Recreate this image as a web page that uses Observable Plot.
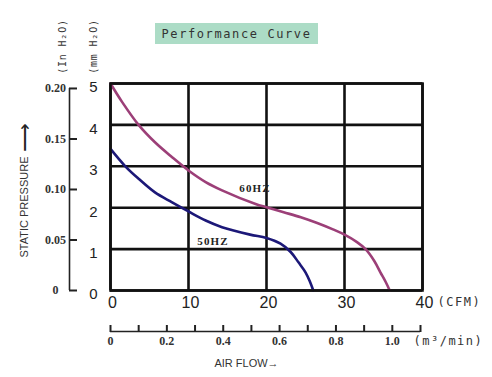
<!DOCTYPE html>
<html><head><meta charset="utf-8">
<script src="https://cdn.jsdelivr.net/npm/d3@7"></script>
<script src="https://cdn.jsdelivr.net/npm/@observablehq/plot@0.6"></script>
<style>
html,body{margin:0;padding:0;background:#fff;}
#wrap{position:relative;width:492px;height:377px;}
#title{position:absolute;left:155px;top:23px;width:163px;height:21px;background:#acdcc6;font-family:"DejaVu Sans Mono",monospace;font-size:12px;letter-spacing:1.6px;color:#333;display:flex;align-items:center;justify-content:center;}
#wrap svg{position:absolute;left:0;top:0;}
</style></head><body>
<div id="wrap"><div id="title">Performance Curve</div></div>
<script>
// ---- data ----
const cfmTicks = [0, 10, 20, 30, 40];
const mmTicks = [0, 1, 2, 3, 4, 5];
const inTicks = [0, 0.05, 0.10, 0.15, 0.20];
const inLabels = ["0", "0.05", "0.10", "0.15", "0.20"];
const m3Ticks = [0, 0.1, 0.2, 0.3, 0.4, 0.5, 0.6, 0.7, 0.8, 0.9, 1.0, 1.1];
const m3LabelTicks = [0, 0.2, 0.4, 0.6, 0.8, 1.0];
const m3Labels = ["0", "0.2", "0.4", "0.6", "0.8", "1.0"];
const seriesNames = ["60HZ", "50HZ"];
const hz60Flow = [0, 1.5, 3.6, 5.7, 7.9, 10, 12.2, 14.3, 18.6, 20, 22.2, 24.4, 26.5, 28.6, 30, 31.6, 32.7, 33.8, 34.6, 35.3, 35.8];
const hz60Pres = [5, 4.55, 4.0, 3.58, 3.22, 2.9, 2.62, 2.42, 2.09, 2.01, 1.89, 1.77, 1.63, 1.47, 1.35, 1.17, 1.0, 0.72, 0.44, 0.2, 0];
const hz50Flow = [0, 1.9, 3.6, 5.7, 7.9, 10, 12.2, 14.3, 17.9, 20, 21.8, 23.1, 24.1, 25.0, 25.6, 26.0];
const hz50Pres = [3.42, 3.0, 2.7, 2.37, 2.13, 1.91, 1.69, 1.53, 1.35, 1.27, 1.13, 0.93, 0.68, 0.44, 0.2, 0];

// secondary scales as drawn in the picture
const IN_TO_MM = 24.4;     // inch H2O -> mm H2O (as drawn)
const M3_TO_CFM = 36.13;   // m3/min -> CFM (as drawn)

const hz60 = hz60Flow.map((x, i) => ({x, y: hz60Pres[i], s: seriesNames[0]}));
const hz50 = hz50Flow.map((x, i) => ({x, y: hz50Pres[i], s: seriesNames[1]}));

const ink = "#111";
const serif = "Liberation Serif, DejaVu Serif, serif";
const sans = "Liberation Sans, Arial, sans-serif";
const mono = "DejaVu Sans Mono, monospace";
const mid = {textAnchor: "middle", lineAnchor: "middle"};

const chart = Plot.plot({
  width: 492, height: 377,
  marginLeft: 110, marginRight: 70, marginTop: 83, marginBottom: 87,
  x: {domain: [0, 40], axis: null},
  y: {domain: [0, 5], axis: null},
  style: {background: "transparent", overflow: "visible"},
  marks: [
    // grid
    Plot.ruleX(cfmTicks, {stroke: ink, strokeWidth: 2.6}),
    Plot.ruleY(mmTicks, {stroke: ink, strokeWidth: 2.6}),
    // curves
    Plot.line(hz60, {x: "x", y: "y", stroke: "#9c3f78", strokeWidth: 2.6, curve: "catmull-rom"}),
    Plot.line(hz50, {x: "x", y: "y", stroke: "#1c1878", strokeWidth: 2.6, curve: "catmull-rom"}),
    Plot.text(hz60.filter(d => d.x === 14.3), {x: "x", y: "y", text: "s", dx: 33, dy: -2, ...mid, fontFamily: serif, fontWeight: "bold", fontSize: 11, fill: "#222"}),
    Plot.text(hz50.filter(d => d.x === 14.3), {x: "x", y: "y", text: "s", dx: -9, dy: 14, ...mid, fontFamily: serif, fontWeight: "bold", fontSize: 11, fill: "#222"}),
    // mm H2O labels
    Plot.text(mmTicks, {y: d => d, text: d => String(d), frameAnchor: "left", dx: -17, dy: 4, ...mid, fontFamily: sans, fontSize: 15, fill: "#222"}),
    // in H2O axis
    Plot.ruleX([0], {y1: 0, y2: 0.20 * IN_TO_MM, dx: -41, stroke: "#222", strokeWidth: 1.6}),
    Plot.axisY(inTicks.map(v => v * IN_TO_MM), {anchor: "left", tickSize: 8, dx: -33, fill: "none", stroke: "#222", strokeWidth: 2, label: null}),
    Plot.text(inTicks, {y: d => d * IN_TO_MM, text: (d, i) => inLabels[i], frameAnchor: "left", dx: -55, ...mid, fontFamily: serif, fontWeight: "bold", fontSize: 12, fill: "#333"}),
    // CFM labels
    Plot.text(cfmTicks, {x: d => d, text: d => String(d), frameAnchor: "bottom", dx: 2, dy: 12, ...mid, fontFamily: sans, fontSize: 16, fill: "#222"}),
    Plot.text(["(CFM)"], {frameAnchor: "bottom-right", dx: 15, dy: 12, textAnchor: "start", lineAnchor: "middle", fontFamily: mono, fontSize: 12, fill: "#333"}),
    // m3/min axis
    Plot.ruleY([0], {x1: 0, x2: 1.1 * M3_TO_CFM, dy: 41, stroke: "#222", strokeWidth: 1.6}),
    Plot.axisX(m3Ticks.map(v => v * M3_TO_CFM), {anchor: "top", tickSize: 7, dy: 248, fill: "none", stroke: "#222", strokeWidth: 2, label: null}),
    Plot.text(m3LabelTicks, {x: d => d * M3_TO_CFM, text: (d, i) => m3Labels[i], frameAnchor: "bottom", dy: 51, ...mid, fontFamily: serif, fontWeight: "bold", fontSize: 12, fill: "#333"}),
    Plot.text(["(m³/min)"], {frameAnchor: "bottom-right", dx: -9, dy: 51, textAnchor: "start", lineAnchor: "middle", fontFamily: mono, fontSize: 12, fill: "#333"}),
    Plot.text(["AIR FLOW→"], {frameAnchor: "bottom", dx: -20, dy: 73, ...mid, fontFamily: sans, fontSize: 11, fill: "#333"}),
    // left titles
    Plot.text(["STATIC PRESSURE"], {frameAnchor: "left", dx: -86, dy: 20, rotate: -90, ...mid, fontFamily: sans, fontSize: 11, fill: "#333"}),
    Plot.text(["⟶"], {frameAnchor: "left", dx: -86, dy: -50, rotate: -90, ...mid, fontFamily: sans, fontSize: 20, fill: "#222"}),
    Plot.text(["(In H₂O)"], {frameAnchor: "top-left", dx: -48, dy: -37, rotate: -90, ...mid, fontFamily: mono, fontSize: 10, fill: "#333"}),
    Plot.text(["(mm H₂O)"], {frameAnchor: "top-left", dx: -17, dy: -37, rotate: -90, ...mid, fontFamily: mono, fontSize: 10, fill: "#333"}),
    Plot.frame({stroke: ink, strokeWidth: 2.6})
  ]
});
document.getElementById("wrap").appendChild(chart);
// letter spacing for the spaced labels
d3.select(chart).selectAll("text").each(function() {
  const t = this.textContent;
  if (t === "(CFM)" || t === "(m³/min)") this.setAttribute("letter-spacing", "1.5");
  if (t === "60HZ" || t === "50HZ") this.setAttribute("letter-spacing", "1.2");
  if (t.startsWith("(In") || t.startsWith("(mm")) this.setAttribute("letter-spacing", "0.8");
});
</script>
</body></html>
